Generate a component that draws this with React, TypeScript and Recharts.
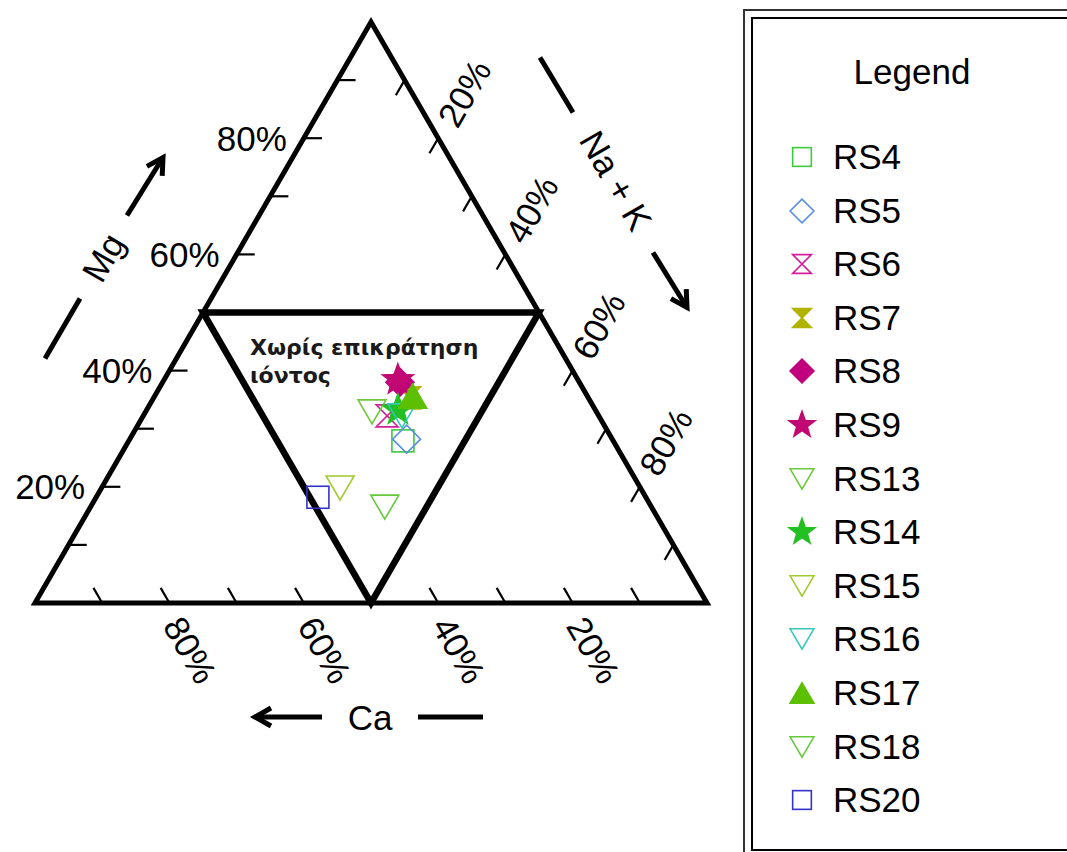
import { ScatterChart, Scatter, XAxis, YAxis, ReferenceLine, Legend } from 'recharts';

// Ternary (Piper cation) plot: Ca bottom-left, Na+K bottom-right, Mg at the apex
const H = Math.sqrt(3) / 2;

const samples = ['RS4', 'RS5', 'RS6', 'RS7', 'RS8', 'RS9', 'RS13', 'RS14', 'RS15', 'RS16', 'RS17', 'RS18', 'RS20'];
const caPct = [31.3, 30.6, 31.5, 26.6, 26.7, 26.8, 33.4, 29.4, 44.7, 29.3, 26.0, 39.7, 48.8];
const mgPct = [27.9, 28.2, 32.2, 35.3, 38.0, 38.4, 32.9, 33.2, 19.8, 32.2, 35.6, 16.5, 18.2];
const naKPct = [40.8, 41.2, 36.3, 38.1, 35.3, 34.8, 33.7, 37.4, 35.5, 38.5, 38.4, 43.8, 33.0];

const markerKinds = ['square', 'diamond', 'hourglass', 'hourglass', 'diamond', 'star', 'triDown', 'star', 'triDown', 'triDown', 'triUp', 'triDown', 'square'];
const markerFilled = [false, false, false, true, true, true, false, true, false, false, true, false, false];
const markerColors = ['#3ec93e', '#5b8fe0', '#d2209c', '#b2b300', '#c0007d', '#c20872', '#6cc83a', '#22c022', '#9fcb2e', '#35c9b8', '#5cbf00', '#66c93a', '#3333cc'];

const labelPct = [20, 40, 60, 80];
const tickPct = [10, 20, 30, 40, 60, 70, 80, 90];

const FONT = '"Liberation Sans", Arial, sans-serif';

const toXY = (ca: number, mg: number, naK: number) => {
  const sum = ca + mg + naK;
  const m = (mg / sum) * 100;
  const n = (naK / sum) * 100;
  return { x: n + m / 2, y: m * H };
};

const outerFrame = [toXY(100, 0, 0), toXY(0, 0, 100), toXY(0, 100, 0), toXY(100, 0, 0), toXY(0, 0, 100)];
const innerFrame = [toXY(50, 50, 0), toXY(0, 50, 50), toXY(50, 0, 50), toXY(50, 50, 0), toXY(0, 50, 50)];

// percentage labels along the three sides
const sideLabels = [
  ...labelPct.map((m) => ({ ...toXY(100 - m, m, 0), text: `${m}%`, dx: -17, dy: 0, angle: 0, anchor: 'end' })),
  ...labelPct.map((c) => ({ ...toXY(c, 0, 100 - c), text: `${c}%`, dx: 21, dy: 47, angle: 60, anchor: 'middle' })),
  ...labelPct.map((n) => ({ ...toXY(0, 100 - n, n), text: `${n}%`, dx: 26, dy: -45, angle: -60, anchor: 'middle' })),
];

const zoneLabels = [
  { ...toXY(50, 50, 0), text: 'Χωρίς επικράτηση', dx: 47, dy: 42 },
  { ...toXY(50, 50, 0), text: 'ιόντος', dx: 47, dy: 70 },
];

const axisTitles = [
  { ...toXY(50, 50, 0), text: 'Mg', angle: -60, t: [-100, -55], dash: [-158, 46, -123, -14], arrow: [-76, -97, -40, -155] },
  { ...toXY(0, 50, 50), text: 'Na + K', angle: 60, t: [77, -132], dash: [1, -255, 34, -200], arrow: [114, -60, 148, -5] },
  { ...toXY(50, 0, 50), text: 'Ca', angle: 0, t: [-1, 114], dash: [47, 114, 112, 114], arrow: [-49, 114, -116, 114] },
];

const Marker = ({ kind, filled, color, cx, cy, k = 1 }: any) => {
  const fill = filled ? color : 'none';
  const common = { fill, stroke: color, strokeWidth: 1.6 };
  if (kind === 'square') {
    const s = 11 * k;
    return <rect x={cx - s} y={cy - s} width={2 * s} height={2 * s} {...common} />;
  }
  if (kind === 'diamond') {
    const s = 14 * k;
    return <polygon points={`${cx},${cy - s} ${cx + s},${cy} ${cx},${cy + s} ${cx - s},${cy}`} {...common} />;
  }
  if (kind === 'hourglass') {
    const w = 11 * k;
    const h = 11 * k;
    return <polygon points={`${cx - w},${cy - h} ${cx + w},${cy - h} ${cx - w},${cy + h} ${cx + w},${cy + h}`} {...common} />;
  }
  if (kind === 'triDown') {
    const w = 14 * k;
    const h = 12 * k;
    return <polygon points={`${cx - w},${cy - h} ${cx + w},${cy - h} ${cx},${cy + h}`} {...common} />;
  }
  if (kind === 'triUp') {
    const w = 14 * k;
    const h = 12 * k;
    return <polygon points={`${cx - w},${cy + h} ${cx + w},${cy + h} ${cx},${cy - h}`} {...common} />;
  }
  // five-pointed star
  const ro = 16 * k;
  const ri = 6.5 * k;
  const pts = [];
  for (let i = 0; i < 10; i++) {
    const r = i % 2 === 0 ? ro : ri;
    const a = -Math.PI / 2 + (i * Math.PI) / 5;
    pts.push(`${cx + r * Math.cos(a)},${cy + r * Math.sin(a)}`);
  }
  return <polygon points={pts.join(' ')} {...common} />;
};

const SideLabel = ({ cx, cy, payload }: any) => {
  const x = cx + payload.dx;
  const y = cy + payload.dy;
  return (
    <text x={x} y={y} textAnchor={payload.anchor} dominantBaseline="central" fontSize={35} fontFamily={FONT} fill="#000"
      transform={`rotate(${payload.angle} ${x} ${y})`}>
      {payload.text}
    </text>
  );
};

const ZoneLabel = ({ cx, cy, payload }: any) => (
  <text x={cx + payload.dx} y={cy + payload.dy} fontSize={22} fontWeight="bold" fontFamily='"DejaVu Sans", sans-serif' fill="#1a1a1a">
    {payload.text}
  </text>
);

const AxisTitle = ({ cx, cy, payload }: any) => {
  const [tx, ty] = payload.t;
  const [d1, d2, d3, d4] = payload.dash;
  const [a1, a2, a3, a4] = payload.arrow;
  const ux = a3 - a1;
  const uy = a4 - a2;
  const len = Math.hypot(ux, uy);
  const ex = ux / len;
  const ey = uy / len;
  const hx = cx + a3;
  const hy = cy + a4;
  const head = `${hx - 16 * ex + 9 * ey},${hy - 16 * ey - 9 * ex} ${hx},${hy} ${hx - 16 * ex - 9 * ey},${hy - 16 * ey + 9 * ex}`;
  return (
    <g>
      <text x={cx + tx} y={cy + ty} textAnchor="middle" dominantBaseline="central" fontSize={35} fontFamily={FONT} fill="#000"
        transform={`rotate(${payload.angle} ${cx + tx} ${cy + ty})`}>
        {payload.text}
      </text>
      <line x1={cx + d1} y1={cy + d2} x2={cx + d3} y2={cy + d4} stroke="#000" strokeWidth={5} />
      <line x1={cx + a1} y1={cy + a2} x2={hx - 3 * ex} y2={hy - 3 * ey} stroke="#000" strokeWidth={5} />
      <polyline points={head} fill="none" stroke="#000" strokeWidth={5} strokeLinejoin="miter" />
    </g>
  );
};

const LegendBox = () => (
  <div style={{ position: 'absolute', left: 0, top: 0, width: 400, height: 900, borderLeft: '2px solid #333', borderTop: '2px solid #333' }}>
    <div style={{ position: 'absolute', left: 6, top: 6, width: 400, height: 830, borderLeft: '2px solid #000', borderTop: '2px solid #000', borderBottom: '2px solid #000' }}>
      <div style={{ position: 'absolute', left: 0, width: 318, top: 33, textAlign: 'center', fontFamily: FONT, fontSize: 35, lineHeight: '40px' }}>
        Legend
      </div>
      {samples.map((name, i) => (
        <div key={name} style={{ position: 'absolute', left: 0, top: 118 + i * 53.6, height: 40, width: 300 }}>
          <svg width={60} height={40} style={{ position: 'absolute', left: 20, top: 0 }}>
            <Marker kind={markerKinds[i]} filled={markerFilled[i]} color={markerColors[i]} cx={29} cy={20} k={0.85} />
          </svg>
          <span style={{ position: 'absolute', left: 80, top: 0, lineHeight: '40px', fontFamily: FONT, fontSize: 35 }}>{name}</span>
        </div>
      ))}
    </div>
  </div>
);

export default function App() {
  return (
    <div style={{ position: 'fixed', left: 0, top: 0, width: 1067, height: 852, overflow: 'hidden', background: '#fff' }}>
      <ScatterChart width={1067} height={852} margin={{ top: 22, right: 360, bottom: 249, left: 35 }}>
        <XAxis type="number" dataKey="x" domain={[0, 100]} hide />
        <YAxis type="number" dataKey="y" domain={[0, 100 * H]} hide />
        <Legend content={<LegendBox />} layout="horizontal" verticalAlign="middle" align="center"
          wrapperStyle={{ position: 'absolute', left: 743, top: 9, width: 400, height: 900 }} />

        {tickPct.map((t) => (
          <ReferenceLine key={`mg${t}`} segment={[toXY(100 - t, t, 0), toXY(97.3 - t, t, 2.7)]} stroke="#000" strokeWidth={2.2} ifOverflow="visible" />
        ))}
        {tickPct.map((t) => (
          <ReferenceLine key={`ca${t}`} segment={[toXY(t, 0, 100 - t), toXY(t, 2.6, 97.4 - t)]} stroke="#000" strokeWidth={2.2} ifOverflow="visible" />
        ))}
        {tickPct.map((t) => (
          <ReferenceLine key={`nk${t}`} segment={[toXY(0, 100 - t, t), toXY(2.6, 97.4 - t, t)]} stroke="#000" strokeWidth={2.2} ifOverflow="visible" />
        ))}

        <Scatter data={outerFrame} line={{ stroke: '#000', strokeWidth: 5 }} shape={() => <g />} legendType="none" isAnimationActive={false} />
        <Scatter data={innerFrame} line={{ stroke: '#000', strokeWidth: 6.5 }} shape={() => <g />} legendType="none" isAnimationActive={false} />

        <Scatter data={sideLabels} shape={(p: any) => <SideLabel {...p} />} legendType="none" isAnimationActive={false} />
        <Scatter data={axisTitles} shape={(p: any) => <AxisTitle {...p} />} legendType="none" isAnimationActive={false} />
        <Scatter data={zoneLabels} shape={(p: any) => <ZoneLabel {...p} />} legendType="none" isAnimationActive={false} />

        {samples.map((name, i) => (
          <Scatter
            key={name}
            name={name}
            data={[toXY(caPct[i], mgPct[i], naKPct[i])]}
            shape={(p: any) => <Marker kind={markerKinds[i]} filled={markerFilled[i]} color={markerColors[i]} cx={p.cx} cy={p.cy} />}
            isAnimationActive={false}
          />
        ))}
      </ScatterChart>
    </div>
  );
}
